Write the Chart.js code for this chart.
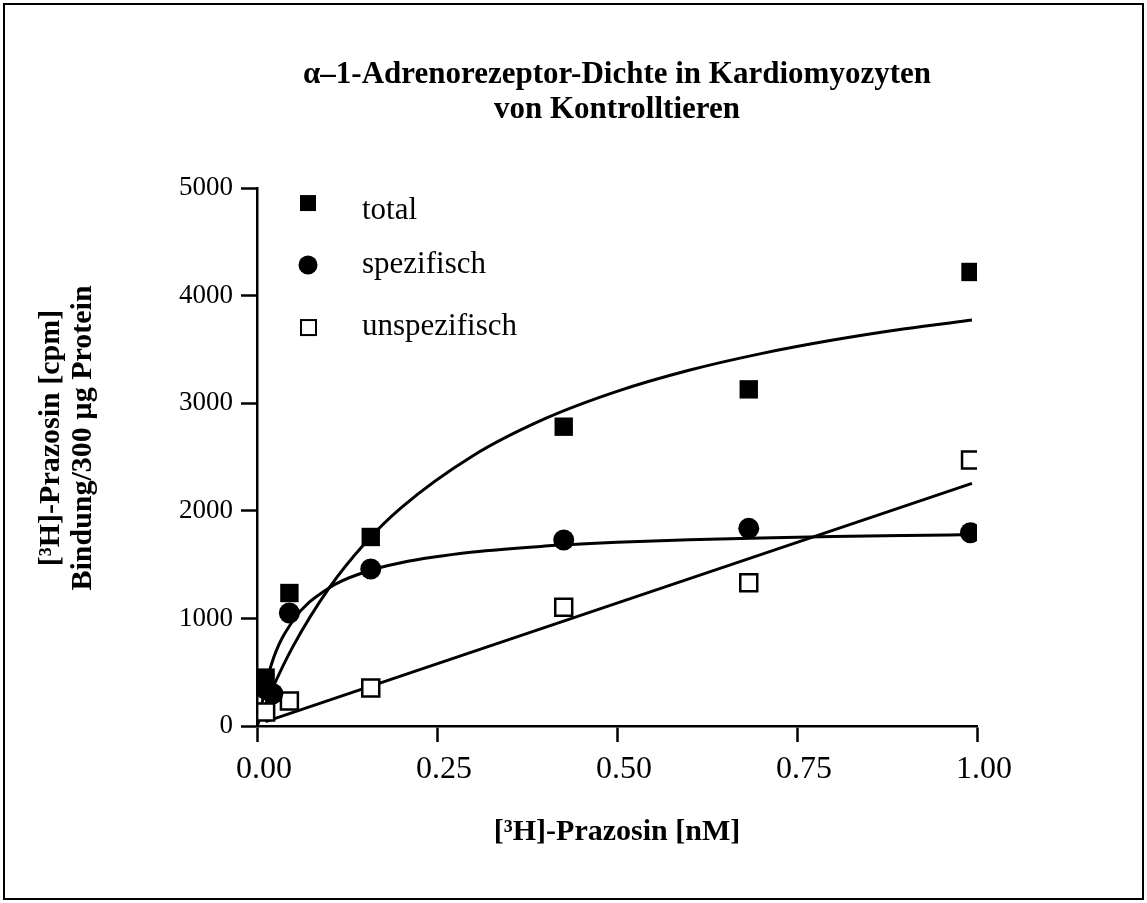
<!DOCTYPE html>
<html>
<head>
<meta charset="utf-8">
<script src="https://cdn.jsdelivr.net/npm/chart.js@4/dist/chart.umd.min.js"></script>
<style>
  body { margin: 0; background: #fff; }
  canvas { display: block; }
</style>
</head>
<body>
<canvas id="chart" width="1147" height="903"></canvas>
<script>
// measured points
const totalX = [0.012, 0.045, 0.158, 0.426, 0.683, 0.991];
const totalY = [450, 1236, 1757, 2782, 3129, 4220];
const specX = [0.012, 0.022, 0.045, 0.158, 0.426, 0.683, 0.991];
const specY = [340, 300, 1050, 1459, 1729, 1837, 1796];
const unspecX = [0.012, 0.045, 0.158, 0.426, 0.683, 0.991];
const unspecY = [130, 232, 353, 1103, 1332, 2472];

// fitted curves
const fitX = [0, 0.02, 0.05, 0.1, 0.15, 0.2, 0.3, 0.4, 0.5, 0.6, 0.7, 0.8, 0.9, 0.993];
const totalFit = [0, 326, 740, 1282, 1699, 2028, 2512, 2856, 3110, 3306, 3461, 3587, 3692, 3773];
const specFit = [0, 572, 979, 1283, 1431, 1518, 1617, 1672, 1707, 1730, 1748, 1761, 1771, 1779];
const unspecFitX = [0.012, 0.993];
const unspecFit = [40, 2255];

const legendLabels = ['total', 'spezifisch', 'unspezifisch'];
const xTicks = [0, 0.25, 0.5, 0.75, 1];
const yTitle = ['[³H]-Prazosin [cpm]', 'Bindung/300 µg Protein'];

const serif = '"Liberation Serif", "Times New Roman", serif';
const pts = (xs, ys) => xs.map((x, i) => ({ x: x, y: ys[i] }));

// whole-picture frame
const framePlugin = {
    id: 'frame',
    beforeDraw(chart) {
        const ctx = chart.ctx;
        ctx.save();
        ctx.fillStyle = '#fff';
        ctx.fillRect(0, 0, chart.width, chart.height);
        ctx.strokeStyle = '#000';
        ctx.lineWidth = 2;
        ctx.strokeRect(4, 4, chart.width - 8, chart.height - 8);
        ctx.restore();
    }
};

// two-line rotated y title, sits a bit above the axis middle like the original
const yTitlePlugin = {
    id: 'yTitle',
    afterDraw(chart) {
        const ctx = chart.ctx;
        ctx.save();
        ctx.translate(51, 438);
        ctx.rotate(-Math.PI / 2);
        ctx.font = 'bold 30px ' + serif;
        ctx.fillStyle = '#000';
        ctx.textAlign = 'center';
        ctx.textBaseline = 'middle';
        yTitle.forEach((t, i) => ctx.fillText(t, 0, i * 32));
        ctx.restore();
    }
};

// legend in the upper left corner of the plot
const cornerLegend = {
    id: 'cornerLegend',
    afterDraw(chart) {
        const ctx = chart.ctx;
        const a = chart.chartArea;
        ctx.save();
        ctx.font = '31px ' + serif;
        ctx.textBaseline = 'middle';
        ctx.fillStyle = '#000';
        legendLabels.forEach((lab, i) => {
            const mx = a.left + 51, my = a.top + 15 + i * 62;
            ctx.lineWidth = 2;
            ctx.strokeStyle = '#000';
            if (i === 0) {
                ctx.fillRect(mx - 8, my - 8, 16, 16);
            } else if (i === 1) {
                ctx.beginPath();
                ctx.arc(mx, my, 9.5, 0, Math.PI * 2);
                ctx.fill();
            } else {
                ctx.strokeRect(mx - 7, my - 7, 15, 15);
            }
            ctx.fillText(lab, a.left + 105, my + (i === 0 ? 8 : 0));
        });
        ctx.restore();
    }
};

new Chart(document.getElementById('chart'), {
    type: 'scatter',
    data: {
        datasets: [
            { label: 'total', data: pts(totalX, totalY), pointStyle: 'rect', pointRadius: 13,
              backgroundColor: '#000', borderColor: '#000', borderWidth: 0 },
            { label: 'spezifisch', data: pts(specX, specY), pointStyle: 'circle', pointRadius: 10.5,
              backgroundColor: '#000', borderColor: '#000', borderWidth: 0 },
            { label: 'unspezifisch', data: pts(unspecX, unspecY), pointStyle: 'rect', pointRadius: 12,
              backgroundColor: '#fff', borderColor: '#000', borderWidth: 2.5 },
            { type: 'line', label: 'total fit', data: pts(fitX, totalFit), borderColor: '#000',
              borderWidth: 3, pointRadius: 0, cubicInterpolationMode: 'monotone', fill: false },
            { type: 'line', label: 'spez fit', data: pts(fitX, specFit), borderColor: '#000',
              borderWidth: 3, pointRadius: 0, cubicInterpolationMode: 'monotone', fill: false },
            { type: 'line', label: 'unspez fit', data: pts(unspecFitX, unspecFit), borderColor: '#000',
              borderWidth: 3, pointRadius: 0, fill: false }
        ]
    },
    options: {
        responsive: false,
        animation: false,
        layout: { padding: { left: 0, right: 170, top: 0, bottom: 0 } },
        plugins: {
            legend: { display: false },
            tooltip: { enabled: false },
            title: {
                display: true,
                fullSize: false,
                text: ['α–1-Adrenorezeptor-Dichte in Kardiomyozyten', 'von Kontrolltieren'],
                color: '#000',
                font: { family: serif, size: 31, weight: 'bold', lineHeight: 1.13 },
                padding: { top: 57, bottom: 61 }
            }
        },
        scales: {
            x: {
                type: 'linear',
                min: 0,
                max: 1,
                afterFit: s => { s.height = 177; },
                afterBuildTicks: s => { s.ticks = xTicks.map(v => ({ value: v })); },
                ticks: {
                    color: '#000',
                    padding: 8,
                    labelOffset: 7,
                    font: { family: serif, size: 32 },
                    callback: v => v.toFixed(2)
                },
                grid: { drawOnChartArea: false, drawTicks: true, tickLength: 16, tickWidth: 2.5, tickColor: '#000' },
                border: { display: true, color: '#000', width: 2.5 },
                title: {
                    display: true,
                    text: '[³H]-Prazosin [nM]',
                    color: '#000',
                    font: { family: serif, size: 30, weight: 'bold', lineHeight: 1.2 },
                    padding: { top: 0, bottom: 53 }
                }
            },
            y: {
                min: 0,
                max: 5000,
                afterFit: s => { s.width = 257; },
                ticks: {
                    stepSize: 1000,
                    color: '#000',
                    padding: 8,
                    font: { family: serif, size: 27 },
                    callback: v => String(v)
                },
                grid: { drawOnChartArea: false, drawTicks: true, tickLength: 16, tickWidth: 2.5, tickColor: '#000' },
                border: { display: true, color: '#000', width: 2.5 }
            }
        }
    },
    plugins: [framePlugin, yTitlePlugin, cornerLegend]
});
</script>
</body>
</html>
